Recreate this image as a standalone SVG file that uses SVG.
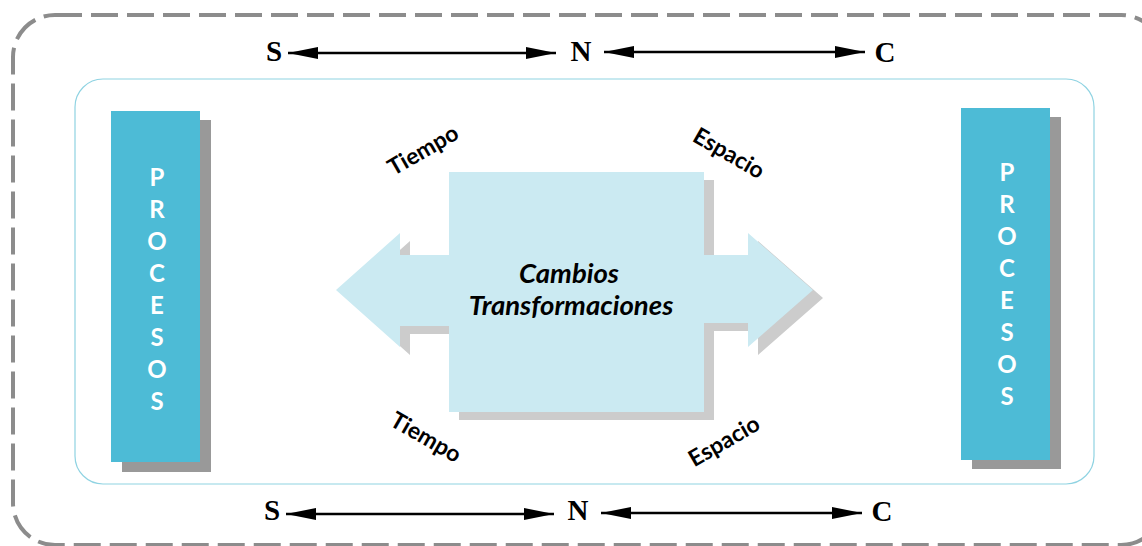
<svg xmlns="http://www.w3.org/2000/svg" width="1142" height="546" viewBox="0 0 1142 546">
<style>
.lbl{font-family:"Liberation Serif",serif;font-weight:bold;font-size:29px;fill:#000;text-anchor:middle}
.diag{font-family:"Lato","Open Sans",sans-serif;font-weight:bold;font-size:23px;fill:#000;text-anchor:middle}
.proc{font-family:"Lato","Open Sans",sans-serif;font-weight:bold;font-size:24px;fill:#fff;text-anchor:middle}
.main{font-family:"Lato","Open Sans",sans-serif;font-weight:bold;font-style:italic;font-size:27.5px;fill:#000;text-anchor:middle}
.bar{fill:#4dbbd6}
.shadow{fill:#999}
.lshadow{fill:#cccccc}
.light{fill:#cbeaf2}
.conn{stroke:#000;stroke-width:2.5;fill:none}
</style>
<defs>
<marker id="ah" viewBox="0 0 30 12" refX="30" refY="6" markerWidth="30" markerHeight="12" markerUnits="userSpaceOnUse" orient="auto-start-reverse">
<path d="M0,0 L30,6 L0,12 Z" fill="#000"/>
</marker>
</defs>
<rect x="13" y="15" width="1150" height="530" rx="42" ry="42" fill="none" stroke="#8c8c8c" stroke-width="4" stroke-dasharray="27,9"/>
<rect x="75" y="79" width="1019" height="405" rx="28" ry="28" fill="none" stroke="#8fd3e2" stroke-width="1.2"/>
<g id="procesos-left">
<rect class="shadow" x="122" y="120" width="89" height="352"/>
<rect class="bar" x="111" y="111" width="89" height="351"/>
<text class="proc" x="157" y="186">P</text>
<text class="proc" x="157" y="218">R</text>
<text class="proc" x="157" y="250">O</text>
<text class="proc" x="157" y="282">C</text>
<text class="proc" x="157" y="314">E</text>
<text class="proc" x="157" y="346">S</text>
<text class="proc" x="157" y="378">O</text>
<text class="proc" x="157" y="410">S</text>
</g>
<g id="procesos-right">
<rect class="shadow" x="972" y="117" width="89" height="352"/>
<rect class="bar" x="961" y="108" width="89" height="352"/>
<text class="proc" x="1007" y="181">P</text>
<text class="proc" x="1007" y="213">R</text>
<text class="proc" x="1007" y="245">O</text>
<text class="proc" x="1007" y="277">C</text>
<text class="proc" x="1007" y="309">E</text>
<text class="proc" x="1007" y="341">S</text>
<text class="proc" x="1007" y="373">O</text>
<text class="proc" x="1007" y="405">S</text>
</g>
<g id="centro">
<path class="lshadow" d="M346,298 L410,241 L410,263 L459,263 L459,180 L714,180 L714,263 L758,263 L758,241 L823,298 L758,355 L758,331 L714,331 L714,420 L459,420 L459,334 L410,334 L410,355 Z"/>
<path class="light" d="M336,290 L400,233 L400,255 L449,255 L449,172 L704,172 L704,255 L748,255 L748,233 L813,290 L748,347 L748,323 L704,323 L704,412 L449,412 L449,326 L400,326 L400,347 Z"/>
<text class="main" x="569" y="283">Cambios</text>
<text class="main" x="571" y="315">Transformaciones</text>
</g>
<g id="etiquetas">
<text class="diag" transform="translate(427,157) rotate(-30)">Tiempo</text>
<text class="diag" transform="translate(725,160) rotate(30)">Espacio</text>
<text class="diag" transform="translate(422,444) rotate(30)">Tiempo</text>
<text class="diag" transform="translate(728,448) rotate(-30)">Espacio</text>
</g>
<g id="snc-top">
<text class="lbl" x="274" y="61">S</text>
<text class="lbl" x="581" y="61">N</text>
<text class="lbl" x="885" y="62">C</text>
</g>
<g id="snc-bottom">
<text class="lbl" x="272" y="520">S</text>
<text class="lbl" x="578" y="520">N</text>
<text class="lbl" x="882" y="521">C</text>
</g>
<g id="connectors">
<line class="conn" x1="288" y1="53" x2="556" y2="53" marker-start="url(#ah)" marker-end="url(#ah)"/>
<line class="conn" x1="604" y1="52" x2="865" y2="52" marker-start="url(#ah)" marker-end="url(#ah)"/>
<line class="conn" x1="286" y1="514" x2="554" y2="514" marker-start="url(#ah)" marker-end="url(#ah)"/>
<line class="conn" x1="601" y1="513" x2="862" y2="513" marker-start="url(#ah)" marker-end="url(#ah)"/>
</g>
</svg>
